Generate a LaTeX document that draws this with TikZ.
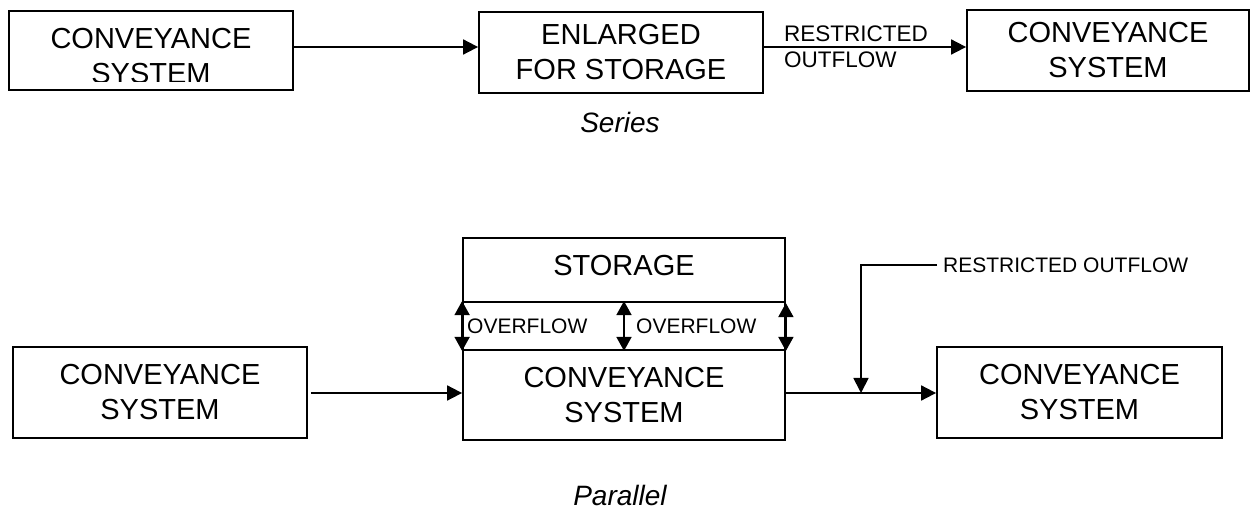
\documentclass[tikz,border=0pt]{standalone}
\usepackage{fontspec}
\setmainfont{Liberation Sans}
\usetikzlibrary{arrows.meta,calc}
\begin{document}
\begin{tikzpicture}[x=1pt,y=-1pt,
  box/.style={draw,line width=1.8pt,inner sep=0pt,font=\fontsize{29}{35}\selectfont,align=center},
  big/.style={font=\fontsize{29}{35}\selectfont,align=center,inner sep=0pt},
  smalltop/.style={font=\fontsize{22.5}{26}\selectfont,align=left,inner sep=0pt},
  small/.style={font=\fontsize{21}{26}\selectfont,inner sep=0pt},
  captxt/.style={font=\fontsize{28}{34}\selectfont\itshape,inner sep=0pt,anchor=base},
  arr/.style={line width=1.8pt,-{Triangle[length=15pt,width=15pt]}},
  darr/.style={line width=1.8pt,{Triangle[length=14pt,width=15pt]}-{Triangle[length=14pt,width=15pt]}}
]
\useasboundingbox (0,0) rectangle (1251,510);

% ---------- Series ----------
\node[box,minimum width=284pt,minimum height=79pt] (b1) at (151,50.5) {};
\begin{scope}
  \clip (9,11) rectangle (293,82);
  \node[big] (t1) at (151,56.5) {CONVEYANCE\\SYSTEM};
\end{scope}
\node[box,minimum width=284pt,minimum height=81pt] (b2) at (621,52.5) {ENLARGED\\FOR STORAGE};
\node[box,minimum width=282pt,minimum height=81pt] (b3) at (1108,50.5) {CONVEYANCE\\SYSTEM};

\draw[arr] (b1.east |- 0,47) -- (b2.west |- 0,47);
\draw[arr] (b2.east |- 0,47) -- (b3.west |- 0,47);
\node[smalltop,anchor=west] (rt) at (784,46.5) {RESTRICTED\\OUTFLOW};

\node[captxt] (series) at (620,133) {Series};

% ---------- Parallel ----------
\node[box,minimum width=294pt,minimum height=91pt] (c1) at (160,392.5) {CONVEYANCE\\SYSTEM};

\node[box,minimum width=322pt,minimum height=64pt] (st) at (624,270) {};
\node[big] (stt) at (624,265.5) {STORAGE};
\node[box,minimum width=322pt,minimum height=48pt] (band) at (624,326) {};
\node[box,minimum width=322pt,minimum height=90pt] (c2) at (624,395) {CONVEYANCE\\SYSTEM};

\node[small,anchor=west] (ov1) at (467,326) {OVERFLOW};
\node[small,anchor=west] (ov2) at (636,326) {OVERFLOW};

\draw[darr] (band.north west) -- (band.south west);
\draw[darr] (band.north) -- (band.south);
\draw[darr] ([yshift=-2pt]band.north east) -- (band.south east);

\node[box,minimum width=285pt,minimum height=91pt] (c3) at (1079.5,392.5) {CONVEYANCE\\SYSTEM};

\draw[arr,shorten <=3pt] (c1.east |- 0,393) -- (c2.west |- 0,393);
\draw[arr] (c2.east |- 0,393) -- (c3.west |- 0,393);

\node[small,anchor=west] (ro) at (943,265) {RESTRICTED OUTFLOW};
\coordinate (rp) at (861,265);
\coordinate (jn) at (861,393);
\draw[arr] ([xshift=-6pt]ro.west) -- (rp) -- (jn);

\node[captxt] (parallel) at (620,505) {Parallel};
\end{tikzpicture}
\end{document}
